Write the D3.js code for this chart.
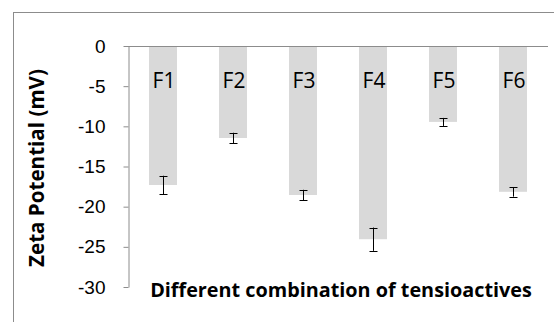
<!DOCTYPE html>
<html>
<head>
<meta charset="utf-8">
<script src="https://cdn.jsdelivr.net/npm/d3@7"></script>
<style>
  body { margin: 0; background: #fff; }
  svg { display: block; font-family: "Open Sans", sans-serif; }
</style>
</head>
<body>
<div id="chart"></div>
<script>
/* ── Data ─────────────────────────────────────────────────────────── */

const categories = ['F1', 'F2', 'F3', 'F4', 'F5', 'F6'];
const zetaValues = [-17.3, -11.45, -18.55, -24.05, -9.45, -18.15];
const zetaErrors = [1.15, 0.65, 0.65, 1.45, 0.5, 0.6];
const yTicks = [0, -5, -10, -15, -20, -25, -30];

/* ── Layout ───────────────────────────────────────────────────────── */

const width = 554;
const height = 322;
const plot = { left: 128, right: 548, top: 46, bottom: 287 };

const svg = d3.select('#chart')
  .append('svg')
  .attr('width', width)
  .attr('height', height);

// Chart area border (runs off the right/bottom edge)
svg.append('rect')
  .attr('x', 13.5)
  .attr('y', 12.5)
  .attr('width', 560)
  .attr('height', 330)
  .attr('fill', 'none')
  .attr('stroke', '#8c8c8c')
  .attr('stroke-width', 1);

/* ── Scales ───────────────────────────────────────────────────────── */

const x = d3.scaleBand()
  .domain(categories)
  .range([plot.left, plot.right])
  .paddingInner(0.6)
  .paddingOuter(0.3);

const y = d3.scaleLinear()
  .domain([-30, 0])
  .range([plot.bottom, plot.top]);

/* ── Axes ─────────────────────────────────────────────────────────── */

const yAxis = svg.append('g')
  .attr('transform', `translate(${plot.left + 0.5},0)`)
  .call(d3.axisLeft(y).tickValues(yTicks).tickSize(5).tickSizeOuter(0).tickPadding(18)
    .tickFormat(d => d === 0 ? '0' : `-${Math.abs(d)}`));
yAxis.select('.domain').attr('stroke', '#8c8c8c');
yAxis.selectAll('.tick line').attr('stroke', '#8c8c8c');
yAxis.selectAll('.tick text')
  .attr('font-size', '19px')
  .attr('fill', '#000')
  .attr('font-family', 'inherit');

// Zero baseline across the plot
svg.append('line')
  .attr('x1', plot.left)
  .attr('x2', plot.right)
  .attr('y1', Math.round(y(0)) + 0.5)
  .attr('y2', Math.round(y(0)) + 0.5)
  .attr('stroke', '#8c8c8c');

/* ── Bars ─────────────────────────────────────────────────────────── */

const rows = categories.map((c, i) => ({ name: c, value: zetaValues[i], err: zetaErrors[i] }));

svg.append('g')
  .selectAll('rect')
  .data(rows)
  .join('rect')
  .attr('x', d => x(d.name))
  .attr('y', y(0) + 1)
  .attr('width', x.bandwidth())
  .attr('height', d => y(d.value) - y(0) - 1)
  .attr('fill', '#d9d9d9');

// Labels inside bars
svg.append('g')
  .selectAll('text')
  .data(rows)
  .join('text')
  .attr('x', d => x(d.name) + x.bandwidth() / 2 + 1)
  .attr('y', 88)
  .attr('text-anchor', 'middle')
  .attr('font-size', '21px')
  .attr('fill', '#000')
  .text(d => d.name);

/* ── Error bars ───────────────────────────────────────────────────── */

const errG = svg.append('g')
  .attr('stroke', '#000')
  .attr('stroke-width', 1);

const cx = d => Math.round(x(d.name) + x.bandwidth() / 2) + 0.5;

errG.selectAll('.v')
  .data(rows)
  .join('line')
  .attr('x1', cx).attr('x2', cx)
  .attr('y1', d => y(d.value + d.err))
  .attr('y2', d => y(d.value - d.err));

errG.selectAll('.top')
  .data(rows)
  .join('line')
  .attr('x1', d => cx(d) - 4).attr('x2', d => cx(d) + 4)
  .attr('y1', d => Math.round(y(d.value + d.err)) + 0.5)
  .attr('y2', d => Math.round(y(d.value + d.err)) + 0.5);

errG.selectAll('.bot')
  .data(rows)
  .join('line')
  .attr('x1', d => cx(d) - 4).attr('x2', d => cx(d) + 4)
  .attr('y1', d => Math.round(y(d.value - d.err)) + 0.5)
  .attr('y2', d => Math.round(y(d.value - d.err)) + 0.5);

/* ── Titles ───────────────────────────────────────────────────────── */

// Fit a bold title to a target length, as the original uses a wider face
function fitText(sel, target, start) {
  let size = start;
  sel.attr('font-size', size + 'px');
  const len = sel.node().getComputedTextLength();
  if (len > 0) {
    size = start * target / len;
    sel.attr('font-size', size.toFixed(2) + 'px');
  }
}

const yTitle = svg.append('text')
  .attr('transform', `translate(44,${168}) rotate(-90)`)
  .attr('text-anchor', 'middle')
  .attr('font-weight', 'bold')
  .text('Zeta Potential (mV)');
fitText(yTitle, 198, 18);

const xTitle = svg.append('text')
  .attr('x', 341)
  .attr('y', 297)
  .attr('text-anchor', 'middle')
  .attr('font-weight', 'bold')
  .text('Different combination of tensioactives');
fitText(xTitle, 382, 18);
</script>
</body>
</html>
